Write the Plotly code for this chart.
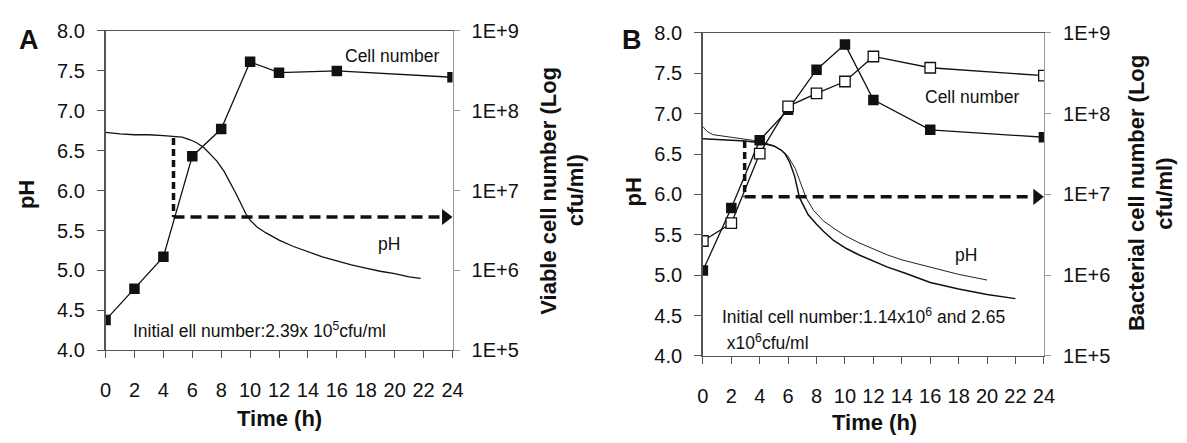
import plotly.graph_objects as go

W, H = 1187, 443
FONT = "Liberation Sans, Arial, Helvetica, sans-serif"

# ---------------- Panel A data ----------------
time_a = [0, 2, 4, 6, 8, 10, 12, 16, 24]
cells_a = [2.39e5, 5.9e5, 1.48e6, 2.7e7, 5.9e7, 4.1e8, 3.0e8, 3.16e8, 2.63e8]

ph_time_a = [0, 1, 2, 3, 4, 4.7, 5.3, 5.8, 6.3, 6.8, 7.3, 7.7, 8.2, 8.6, 9.0, 9.3,
             9.7, 10.0, 10.5, 11.1, 12, 13, 14, 15, 16, 17, 18, 19, 20, 21, 21.8]
ph_a = [6.73, 6.71, 6.70, 6.70, 6.69, 6.68, 6.67, 6.64, 6.60, 6.54, 6.45, 6.37, 6.24,
        6.11, 5.97, 5.86, 5.71, 5.63, 5.54, 5.47, 5.38, 5.30, 5.23, 5.17, 5.12, 5.07,
        5.03, 4.99, 4.96, 4.92, 4.90]

guide_v_t_a = [4.7, 4.7]
guide_v_ph_a = [6.66, 5.67]
guide_h_t_a = [4.7, 23.2]
guide_h_ph_a = [5.67, 5.67]
arrow_t_a = [23.52]
arrow_ph_a = [5.67]

# ---------------- Panel B data ----------------
time_b = [0, 2, 4, 6, 8, 10, 12, 16, 24]
cells_b_filled = [1.14e6, 6.8e6, 4.7e7, 1.12e8, 3.5e8, 7.2e8, 1.48e8, 6.3e7, 5.1e7]
cells_b_open = [2.65e6, 4.4e6, 3.2e7, 1.23e8, 1.78e8, 2.5e8, 5.1e8, 3.7e8, 2.95e8]

ph_time_b1 = [0, 1, 2, 3, 4, 4.5, 5.0, 5.5, 5.8, 6.1, 6.45, 6.8, 7.4, 8.0, 8.5, 9.2,
              10.1, 11, 12, 13, 14.3, 16, 18, 20, 22]
ph_b1 = [6.69, 6.68, 6.67, 6.66, 6.64, 6.62, 6.60, 6.55, 6.50, 6.40, 6.23, 5.96, 5.75,
         5.63, 5.54, 5.43, 5.33, 5.25, 5.17, 5.10, 5.02, 4.91, 4.83, 4.76, 4.71]

ph_time_b2 = [0, 0.3, 0.7, 1.5, 2.5, 3.5, 4.5, 5.0, 5.5, 6.0, 6.5, 6.9, 7.26, 7.8,
              8.5, 9.3, 10, 11, 12, 13, 14, 16, 18, 20]
ph_b2 = [6.84, 6.78, 6.74, 6.72, 6.70, 6.67, 6.63, 6.60, 6.55, 6.47, 6.32, 6.14, 5.96,
         5.80, 5.67, 5.57, 5.49, 5.40, 5.32, 5.25, 5.19, 5.10, 5.01, 4.94]

guide_v_t_b = [2.94, 2.94]
guide_v_ph_b = [6.66, 5.97]
guide_h_t_b = [2.94, 23.2]
guide_h_ph_b = [5.97, 5.97]
arrow_t_b = [23.5]
arrow_ph_b = [5.97]

x_ticks = list(range(0, 25, 2))
log_tickvals = [1e5, 1e6, 1e7, 1e8, 1e9]
log_ticktext = ["1E+5", "1E+6", "1E+7", "1E+8", "1E+9"]


def dx(p):
    return p / W


def dy(p):
    return 1 - p / H


fig = go.Figure()

line_blk = dict(color="#111111", width=1.3)

# ---- Panel A traces ----
fig.add_trace(go.Scatter(x=ph_time_a, y=ph_a, mode="lines", line=line_blk,
                         xaxis="x", yaxis="y", showlegend=False))
fig.add_trace(go.Scatter(x=guide_v_t_a, y=guide_v_ph_a, mode="lines",
                         line=dict(color="#111111", width=3.5, dash="7px,4px"),
                         xaxis="x", yaxis="y", showlegend=False))
fig.add_trace(go.Scatter(x=guide_h_t_a, y=guide_h_ph_a, mode="lines",
                         line=dict(color="#111111", width=3.5, dash="11px,6px"),
                         xaxis="x", yaxis="y", showlegend=False))
fig.add_trace(go.Scatter(x=arrow_t_a, y=arrow_ph_a, mode="markers",
                         marker=dict(symbol="triangle-right", size=14, color="#111111"),
                         xaxis="x", yaxis="y", showlegend=False))
fig.add_trace(go.Scatter(x=time_a, y=cells_a, mode="lines+markers", line=line_blk,
                         marker=dict(symbol="square", size=10.5, color="#111111"),
                         xaxis="x", yaxis="y2", showlegend=False))

# ---- Panel B traces ----
fig.add_trace(go.Scatter(x=ph_time_b2, y=ph_b2, mode="lines",
                         line=dict(color="#222222", width=1.0),
                         xaxis="x2", yaxis="y3", showlegend=False))
fig.add_trace(go.Scatter(x=ph_time_b1, y=ph_b1, mode="lines",
                         line=dict(color="#111111", width=1.5),
                         xaxis="x2", yaxis="y3", showlegend=False))
fig.add_trace(go.Scatter(x=guide_v_t_b, y=guide_v_ph_b, mode="lines",
                         line=dict(color="#111111", width=3.5, dash="7px,4px"),
                         xaxis="x2", yaxis="y3", showlegend=False))
fig.add_trace(go.Scatter(x=guide_h_t_b, y=guide_h_ph_b, mode="lines",
                         line=dict(color="#111111", width=3.5, dash="11px,6px"),
                         xaxis="x2", yaxis="y3", showlegend=False))
fig.add_trace(go.Scatter(x=arrow_t_b, y=arrow_ph_b, mode="markers",
                         marker=dict(symbol="triangle-right", size=14, color="#111111"),
                         xaxis="x2", yaxis="y3", showlegend=False))
fig.add_trace(go.Scatter(x=time_b, y=cells_b_filled, mode="lines+markers", line=line_blk,
                         marker=dict(symbol="square", size=10.5, color="#111111"),
                         xaxis="x2", yaxis="y4", showlegend=False))
fig.add_trace(go.Scatter(x=time_b, y=cells_b_open, mode="lines+markers", line=line_blk,
                         marker=dict(symbol="square", size=10.5, color="white",
                                     line=dict(color="#111111", width=1.3)),
                         xaxis="x2", yaxis="y4", showlegend=False))

tickfont = dict(family=FONT, size=20, color="#111111")

xcommon = dict(range=[0, 24], tickvals=x_ticks, ticks="outside", ticklen=7,
               tickcolor="#555555", showline=True, linecolor="#555555", linewidth=1.2,
               mirror=True, showgrid=False, zeroline=False, tickfont=tickfont,
               ticklabelstandoff=15, fixedrange=True)
ycommon = dict(range=[4, 8], dtick=0.5, tickformat=".1f", ticks="outside", ticklen=7,
               tickcolor="#555555", showline=True, linecolor="#555555", linewidth=1.5,
               showgrid=False, zeroline=False, tickfont=tickfont, ticklabelstandoff=8)
yright = dict(type="log", range=[5, 9], tickvals=log_tickvals, ticktext=log_ticktext,
              side="right", ticks="outside", ticklen=6, tickcolor="#999999",
              showline=True, linecolor="#999999", linewidth=1.2, showgrid=False,
              zeroline=False, tickfont=tickfont, ticklabelstandoff=8)

fig.update_layout(
    width=W, height=H, margin=dict(l=0, r=0, t=0, b=0),
    paper_bgcolor="white", plot_bgcolor="white", showlegend=False,
    font=dict(family=FONT, color="#111111"),
    xaxis=dict(domain=[dx(101), dx(453)], anchor="y", **xcommon),
    yaxis=dict(domain=[dy(357), dy(21)], anchor="x", **ycommon),
    yaxis2=dict(overlaying="y", anchor="x", **yright),
    xaxis2=dict(domain=[dx(707), dx(1053)], anchor="y3", **xcommon),
    yaxis3=dict(domain=[dy(363), dy(23)], anchor="x2", **ycommon),
    yaxis4=dict(overlaying="y3", anchor="x2", **yright),
)

ann_font = dict(family=FONT, size=17.5, color="#111111")
bold_font = dict(family=FONT, size=22, color="#111111")
label_font = dict(family=FONT, size=27, color="#111111")

annotations = [
    # Panel A in-plot text
    dict(text="Cell number", x=23.3, y=7.69, xref="x", yref="y", xanchor="right",
         yanchor="middle", showarrow=False, font=ann_font),
    dict(text="pH", x=19.6, y=5.33, xref="x", yref="y", xanchor="center",
         yanchor="middle", showarrow=False, font=ann_font),
    dict(text="Initial ell number:2.39x 10<sup>5</sup>cfu/ml", x=1.77, y=4.26, xref="x",
         yref="y", xanchor="left", yanchor="middle", showarrow=False, font=ann_font),
    # Panel B in-plot text
    dict(text="Cell number", x=19.0, y=7.21, xref="x2", yref="y3", xanchor="center",
         yanchor="middle", showarrow=False, font=ann_font),
    dict(text="pH", x=18.5, y=5.25, xref="x2", yref="y3", xanchor="center",
         yanchor="middle", showarrow=False, font=ann_font),
    dict(text="Initial cell number:1.14x10<sup>6</sup> and 2.65", x=1.18, y=4.50,
         xref="x2", yref="y3", xanchor="left", yanchor="middle", showarrow=False,
         font=ann_font),
    dict(text=" x10<sup>6</sup>cfu/ml", x=1.18, y=4.17, xref="x2", yref="y3",
         xanchor="left", yanchor="middle", showarrow=False, font=ann_font),
    # Panel labels
    dict(text="<b>A</b>", x=dx(23), y=dy(30), xref="paper", yref="paper",
         xanchor="center", yanchor="middle", showarrow=False, font=label_font),
    dict(text="<b>B</b>", x=dx(635), y=dy(30), xref="paper", yref="paper",
         xanchor="center", yanchor="middle", showarrow=False, font=label_font),
    # Axis titles A
    dict(text="<b>pH</b>", x=dx(21), y=dy(193), xref="paper", yref="paper",
         textangle=-90, xanchor="center", yanchor="middle", showarrow=False,
         font=bold_font),
    dict(text="<b>Time (h)</b>", x=dx(277), y=dy(429), xref="paper", yref="paper",
         xanchor="center", yanchor="middle", showarrow=False, font=bold_font),
    dict(text="<b>Viable cell number (Log</b>", x=dx(551), y=dy(189), xref="paper",
         yref="paper", textangle=-90, xanchor="center", yanchor="middle",
         showarrow=False, font=bold_font),
    dict(text="<b>cfu/ml)</b>", x=dx(578), y=dy(189), xref="paper", yref="paper",
         textangle=-90, xanchor="center", yanchor="middle", showarrow=False,
         font=bold_font),
    # Axis titles B
    dict(text="<b>pH</b>", x=dx(637), y=dy(190), xref="paper", yref="paper",
         textangle=-90, xanchor="center", yanchor="middle", showarrow=False,
         font=bold_font),
    dict(text="<b>Time (h)</b>", x=dx(881), y=dy(433), xref="paper", yref="paper",
         xanchor="center", yanchor="middle", showarrow=False, font=bold_font),
    dict(text="<b>Bacterial cell number (Log</b>", x=dx(1147), y=dy(192), xref="paper",
         yref="paper", textangle=-90, xanchor="center", yanchor="middle",
         showarrow=False, font=bold_font),
    dict(text="<b>cfu/ml)</b>", x=dx(1175), y=dy(192), xref="paper", yref="paper",
         textangle=-90, xanchor="center", yanchor="middle", showarrow=False,
         font=bold_font),
]
fig.update_layout(annotations=annotations)

fig.write_html("out.html")
